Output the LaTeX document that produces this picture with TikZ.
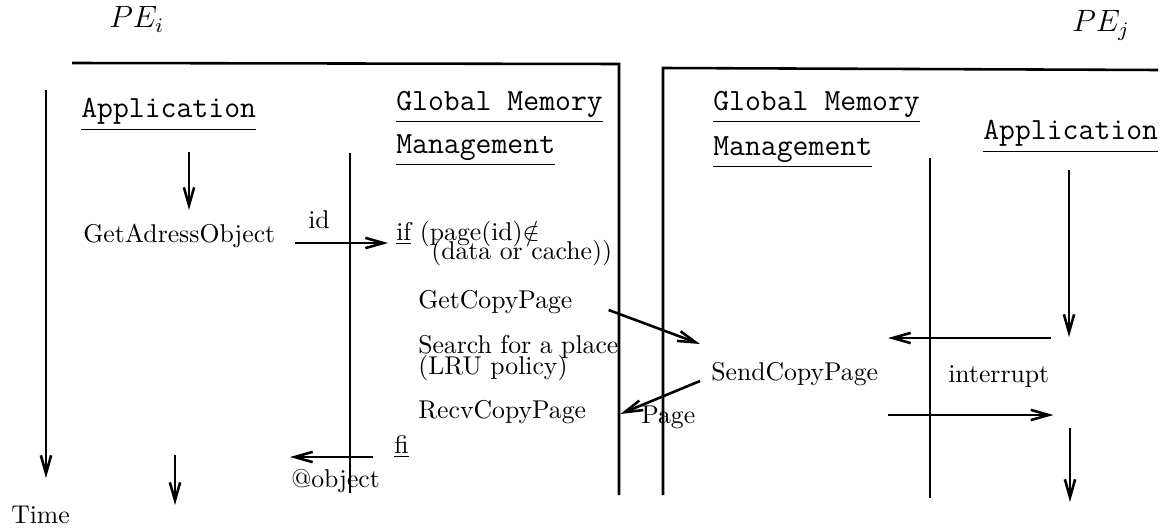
\documentclass[tikz,border=0pt]{standalone}
\usepackage{amsmath}
\usepackage{tikz}
\usetikzlibrary{arrows.meta, calc, positioning}

\tikzset{
  txt/.style={anchor=base west, inner sep=0pt},
  head/.style={txt, font=\large\ttfamily},
}

\begin{document}
\begin{tikzpicture}[x=0.389pt, y=-0.389pt, line width=1pt,
    >={Straight Barb[length=7pt,width=4pt]}]
  \useasboundingbox (0,0) rectangle (1169,531);

  % the two processors
  \node[txt, font=\large] (pe-i) at (108,28) {$PE_i$};
  \node[txt, font=\large] (pe-j) at (1071,32) {$PE_j$};
  \draw (72,63) -- (619,64) coordinate (box-i) -- (619,495);
  \draw (663,495) -- (663,68) coordinate (box-j) -- (1158,70);

  % time axis
  \path (46,90) coordinate (t1);
  \path (46,478) coordinate (t2);
  \draw[->] (t1) -- (t2);
  \node[txt] (time) at (10,523) {Time};

  % headers
  \node[head] (app-i) at (80,118) {\underline{Application}};
  \node[head] (gmm-i) at (395,110) {\underline{Global Memory}};
  \node[head] (mgt-i) at (395,153) {\underline{Management}};
  \node[head] (gmm-j) at (712,110) {\underline{Global Memory}};
  \node[head] (mgt-j) at (712,155) {\underline{Management}};
  \node[head] (app-j) at (982,140) {\underline{Application}};

  % lifelines
  \path (350,153) coordinate (li-top);
  \path (350,493) coordinate (li-bot);
  \path (930,158) coordinate (lj-top);
  \path (930,498) coordinate (lj-bot);
  \draw (li-top) -- (li-bot);
  \draw (lj-top) -- (lj-bot);
  \draw[->] (189,152) coordinate (ai1) -- (189,210);
  \draw[->] (175,455) coordinate (ai2) -- (175,505);
  \draw[->] (1069,170) coordinate (aj1) -- (1069,337);
  \draw[->] (1070,428) coordinate (aj2) -- (1070,502);

  % PE_i side
  \node[txt] (getaddr) at (82,242) {GetAdressObject};
  \node[txt] (if) at (395,240) {\underline{if} (page(id)$\notin$};
  \node[txt] (if-2) at (430,259) {(data or cache))};
  \node[txt] (getcopy) at (417,308) {GetCopyPage};
  \node[txt] (search) at (417,353) {Search for a place};
  \node[txt] (lru) at (417,374) {(LRU policy)};
  \node[txt] (recv) at (417,418) {RecvCopyPage};
  \node[txt] (fi) at (393,453) {\underline{fi}};
  \node[txt] (object) at (290,487) {@object};

  \draw[->] ($(getaddr.base east)+(19,1)$) -- ($(if.base west)+(-7,3)$);
  \node[txt] (id) at (307,228) {id};
  \draw[->] ($(fi.base west)+(-20,4)$) -- ($(object.base west)+(0,-30)$);

  % PE_j side
  \node[txt] (send) at (710,380) {SendCopyPage};
  \node[txt] (interrupt) at (947,382) {interrupt};
  \node[txt] (page) at (640,423) {Page};

  \draw[->] ($(getcopy.base east)+(35,2)$) -- ($(send.base west)+(-10,-36)$);
  \draw[->] ($(send.base west)+(-10,1)$) -- ($(recv.base east)+(33,-4)$);
  \draw[->] ($(interrupt.base east)+(1,-44)$) -- ($(interrupt.base west)+(-59,-44)$);
  \draw[->] ($(interrupt.base west)+(-59,33)$) -- ($(interrupt.base east)+(3,33)$);
\end{tikzpicture}
\end{document}
